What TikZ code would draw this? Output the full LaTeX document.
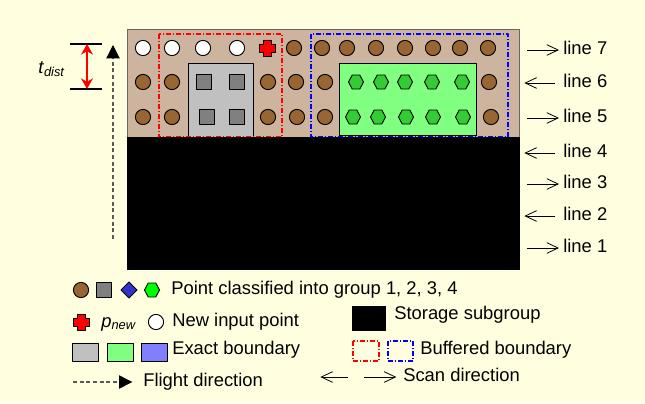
\documentclass[tikz,border=0pt]{standalone}
\usepackage{fontspec}
\setmainfont{Liberation Sans}
\usepackage{tikz}
\usetikzlibrary{arrows.meta}
\usepackage{xcolor}
\definecolor{paper}{RGB}{255,255,224}
\definecolor{sand}{RGB}{205,180,158}
\definecolor{brownpt}{RGB}{153,102,51}
\definecolor{greybox}{RGB}{192,192,192}
\definecolor{greysq}{RGB}{128,128,128}
\definecolor{greenbox}{RGB}{128,255,128}
\definecolor{greenhex}{RGB}{51,204,51}
\definecolor{limehex}{RGB}{0,255,0}
\definecolor{bluedia}{RGB}{51,51,204}
\definecolor{bluebox}{RGB}{128,128,255}

\begin{document}
\begin{tikzpicture}[x=0.75pt,y=-0.75pt,font=\fontsize{13.8}{16}\selectfont,line join=round,
  mk/.style={draw=black,line width=0.7pt},
  lbl/.style={inner sep=0pt,text height=0.72em,text depth=0pt,anchor=west},
  bufred/.style={draw=red,line width=1.2pt,dash pattern=on 3.5pt off 1.5pt on 1pt off 1.5pt},
  bufblue/.style={bufred,draw=blue},
  scanarr/.style={-{Straight Barb[length=8.5pt,width=8pt]},line width=0.6pt},
  flight/.style={-{Triangle[length=10pt,width=10pt,color=black]},draw=black!65,line width=0.8pt,dash pattern=on 3pt off 2pt},
  ptbrown/.pic={\draw[mk,fill=brownpt] (0,0) circle (5.7pt);},
  ptwhite/.pic={\draw[mk,fill=white] (0,0) circle (5.7pt);},
  ptsq/.pic={\draw[mk,fill=greysq] (-7.5,-7.5) rectangle (7.5,7.5);},
  pthex/.pic={\draw[mk,fill=#1] (-7.5,0) -- (-3.8,-7) -- (3.8,-7) -- (7.5,0) -- (3.8,7) -- (-3.8,7) -- cycle;},
  ptdia/.pic={\draw[mk,fill=bluedia] (0,-8) -- (8,0) -- (0,8) -- (-8,0) -- cycle;},
  ptcross/.pic={\draw[mk,fill=red] (-4,-8) -- (4,-8) -- (4,-4) -- (8,-4) -- (8,4) -- (4,4) -- (4,8)
    -- (-4,8) -- (-4,4) -- (-8,4) -- (-8,-4) -- (-4,-4) -- cycle;}]
\fill[paper] (0,0) rectangle (645,403);

% scanned area
\draw[draw=black!60,fill=sand] (127,29) rectangle (519,137);
\draw[mk,fill=greybox] (188,63) rectangle (253,137);
\draw[mk,fill=greenbox] (339,63) rectangle (476,135);
\draw[bufred] (159,34) rectangle (282,137);
\draw[bufblue] (311,34) rectangle (508,137);
\fill[black] (127,137) rectangle (520,270);

% points, line 7
\foreach \x in {143,172,203,237} \pic at (\x,48) {ptwhite};
\pic at (267,48) {ptcross};
\foreach \x in {294,322,347,376,405,433,460,488} \pic at (\x,48) {ptbrown};
% points, line 6
\foreach \x in {143,172,268,296,325,489} \pic at (\x,82) {ptbrown};
\foreach \x in {204,237} \pic at (\x,82) {ptsq};
\foreach \x in {356,381,405,432,462} \pic at (\x,82) {pthex=greenhex};
% points, line 5
\foreach \x in {143,172,268,297,325,491} \pic at (\x,117) {ptbrown};
\foreach \x in {207,237} \pic at (\x,117) {ptsq};
\foreach \x in {353,378,406,433,463} \pic at (\x,117) {pthex=greenhex};

% t_dist and flight direction
\coordinate (ttop) at (87,44);
\coordinate (tbot) at (87,89);
\draw[line width=0.8pt] (70,44) -- (102,44) (70,89) -- (102,89);
\draw[red,line width=1pt,{Stealth[length=8pt,width=9pt]}-{Stealth[length=8pt,width=9pt]}] (ttop) -- (tbot);
\node[inner sep=0pt,anchor=base west] (tdist) at (38,74) {\textit{t}\textsubscript{\textit{dist}}};
\coordinate (fstart) at (113,239);
\coordinate (fend) at (113,45);
\draw[flight] (fstart) -- (fend);

% scan lines
\foreach \n/\y in {7/50,6/83,5/118,4/153,3/184,2/216,1/248}
  \node[lbl] (line\n) at (563,\y) {line \n};
\foreach \n in {7,5,3,1}
  \draw[scanarr] ([xshift=-27pt]line\n.west) -- ([xshift=-3pt]line\n.west);
\foreach \n in {6,4,2}
  \draw[scanarr] ([xshift=-6pt]line\n.west) -- ([xshift=-29pt]line\n.west);

% legend
\pic at (81,290) {ptbrown};
\pic at (104,290) {ptsq};
\pic at (129,290) {ptdia};
\pic at (152,290) {pthex=limehex};
\node[lbl] (group) at (171,290) {Point classified into group 1, 2, 3, 4};
\pic at (81,322) {ptcross};
\node[inner sep=0pt,anchor=base west] (pnew) at (101,327) {\textit{p}\textsubscript{\textit{new}}};
\pic at (156,322) {ptwhite};
\node[lbl] (newpt) at (172,322) {New input point};
\draw[mk,fill=greybox] (72,343) rectangle (98,361);
\draw[mk,fill=greenbox] (107,343) rectangle (133,361);
\draw[mk,fill=bluebox] (141,343) rectangle (167,361);
\node[lbl] (exact) at (172,349.5) {Exact boundary};
\node[lbl] (flightlbl) at (143,382) {Flight direction};
\coordinate (lfstart) at (73,382);
\draw[flight] (lfstart) -- ([xshift=-8pt]flightlbl.west);
\fill[black] (352,306) rectangle (386,331);
\node[lbl] (storage) at (394,315) {Storage subgroup};
\draw[bufred] (353,341) rectangle (379,361);
\draw[bufblue] (388,341) rectangle (413,361);
\node[lbl] (buffered) at (420,349.5) {Buffered boundary};
\node[lbl] (scan) at (403,377) {Scan direction};
\draw[scanarr] ([xshift=-41pt]scan.west) -- ([xshift=-62pt]scan.west);
\draw[scanarr] ([xshift=-29pt]scan.west) -- ([xshift=-5pt]scan.west);
\end{tikzpicture}
\end{document}
